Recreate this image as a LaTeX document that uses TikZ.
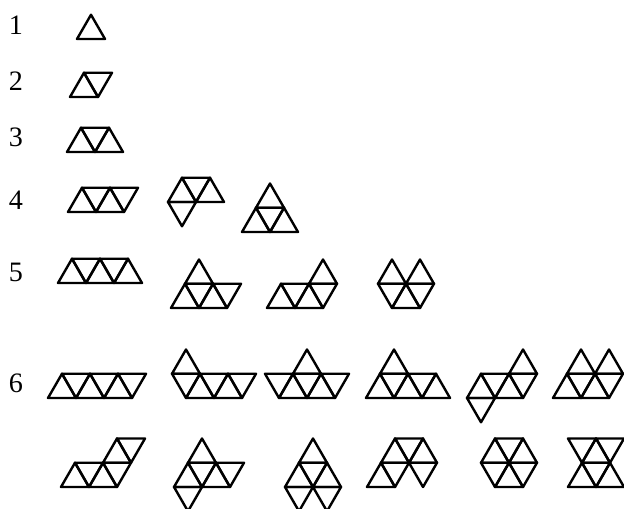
\documentclass[tikz,border=0pt]{standalone}
\usepackage{fontspec}
\setmainfont{Liberation Serif}

\tikzset{
    triline/.style={line width=0.072cm, line join=round},
    trigrid/.style={x={(0.84cm,0cm)}, y={(0.42cm,0.7275cm)}},
    rowlabel/.style={font=\fontsize{24}{27}\selectfont, inner sep=0pt}
}
% one cell of the triangular grid, pointing up or down
\newcommand{\triup}[2]{\draw[triline] (#1,#2) -- ++(1,0) -- ++(-1,1) -- cycle;}
\newcommand{\tridown}[2]{\draw[triline] ({#1+1},#2) -- ++(0,1) -- ++(-1,0) -- cycle;}

\begin{document}
\begin{tikzpicture}[x=0.03cm, y=-0.03cm]
    \useasboundingbox (0,0) rectangle (624,508);

    % row labels
    \node[rowlabel] (n1) at (16,25) {1};
    \node[rowlabel] (n2) at (16,81) {2};
    \node[rowlabel] (n3) at (16,137) {3};
    \node[rowlabel] (n4) at (16,200) {4};
    \node[rowlabel] (n5) at (16,272) {5};
    \node[rowlabel] (n6) at (16,383) {6};

    % 1
    \begin{scope}[shift={(77,39)}, trigrid]
        \triup{0}{0}
    \end{scope}
    % 2
    \begin{scope}[shift={(70,97)}, trigrid]
        \triup{0}{0} \tridown{0}{0}
    \end{scope}
    % 3
    \begin{scope}[shift={(67,152)}, trigrid]
        \triup{0}{0} \tridown{0}{0} \triup{1}{0}
    \end{scope}
    % 4
    \begin{scope}[shift={(68,212)}, trigrid]
        \triup{0}{0} \tridown{0}{0} \triup{1}{0} \tridown{1}{0}
    \end{scope}
    \begin{scope}[shift={(168,202)}, trigrid]
        \triup{0}{0} \tridown{0}{0} \triup{1}{0} \tridown{0}{-1}
    \end{scope}
    \begin{scope}[shift={(242,232)}, trigrid]
        \triup{0}{0} \tridown{0}{0} \triup{1}{0} \triup{0}{1}
    \end{scope}
    % 5
    \begin{scope}[shift={(58,283)}, trigrid]
        \triup{0}{0} \tridown{0}{0} \triup{1}{0} \tridown{1}{0} \triup{2}{0}
    \end{scope}
    \begin{scope}[shift={(171,308)}, trigrid]
        \triup{0}{0} \tridown{0}{0} \triup{1}{0} \tridown{1}{0} \triup{0}{1}
    \end{scope}
    \begin{scope}[shift={(267,308)}, trigrid]
        \triup{0}{0} \tridown{0}{0} \triup{1}{0} \tridown{1}{0} \triup{1}{1}
    \end{scope}
    \begin{scope}[shift={(392,308)}, trigrid]
        \triup{0}{0} \tridown{-1}{0} \tridown{0}{0} \triup{-1}{1} \triup{0}{1}
    \end{scope}
    % 6, first row
    \begin{scope}[shift={(48,398)}, trigrid]
        \triup{0}{0} \tridown{0}{0} \triup{1}{0} \tridown{1}{0} \triup{2}{0} \tridown{2}{0}
    \end{scope}
    \begin{scope}[shift={(186,398)}, trigrid]
        \tridown{-1}{0} \triup{0}{0} \tridown{0}{0} \triup{1}{0} \tridown{1}{0} \triup{-1}{1}
    \end{scope}
    \begin{scope}[shift={(279,398)}, trigrid]
        \tridown{-1}{0} \triup{0}{0} \tridown{0}{0} \triup{1}{0} \tridown{1}{0} \triup{0}{1}
    \end{scope}
    \begin{scope}[shift={(366,398)}, trigrid]
        \triup{0}{0} \tridown{0}{0} \triup{1}{0} \tridown{1}{0} \triup{2}{0} \triup{0}{1}
    \end{scope}
    \begin{scope}[shift={(467,398)}, trigrid]
        \triup{0}{0} \tridown{0}{0} \triup{1}{0} \tridown{1}{0} \triup{1}{1} \tridown{0}{-1}
    \end{scope}
    \begin{scope}[shift={(553,398)}, trigrid]
        \triup{0}{0} \tridown{0}{0} \triup{1}{0} \tridown{1}{0} \triup{0}{1} \triup{1}{1}
    \end{scope}
    % 6, second row
    \begin{scope}[shift={(61,487)}, trigrid]
        \triup{0}{0} \tridown{0}{0} \triup{1}{0} \tridown{1}{0} \triup{1}{1} \tridown{1}{1}
    \end{scope}
    \begin{scope}[shift={(174,487)}, trigrid]
        \triup{0}{0} \tridown{0}{0} \triup{1}{0} \tridown{1}{0} \triup{0}{1} \tridown{0}{-1}
    \end{scope}
    \begin{scope}[shift={(285,487)}, trigrid]
        \triup{0}{0} \tridown{0}{0} \triup{1}{0} \triup{0}{1} \tridown{0}{-1} \tridown{1}{-1}
    \end{scope}
    \begin{scope}[shift={(367,487)}, trigrid]
        \triup{0}{0} \tridown{0}{0} \tridown{1}{0} \triup{0}{1} \tridown{0}{1} \triup{1}{1}
    \end{scope}
    \begin{scope}[shift={(495,487)}, trigrid]
        \triup{0}{0} \tridown{-1}{0} \tridown{0}{0} \triup{-1}{1} \tridown{-1}{1} \triup{0}{1}
    \end{scope}
    \begin{scope}[shift={(568,487)}, trigrid]
        \triup{0}{0} \tridown{0}{0} \triup{1}{0} \tridown{-1}{1} \triup{0}{1} \tridown{0}{1}
    \end{scope}
\end{tikzpicture}
\end{document}
